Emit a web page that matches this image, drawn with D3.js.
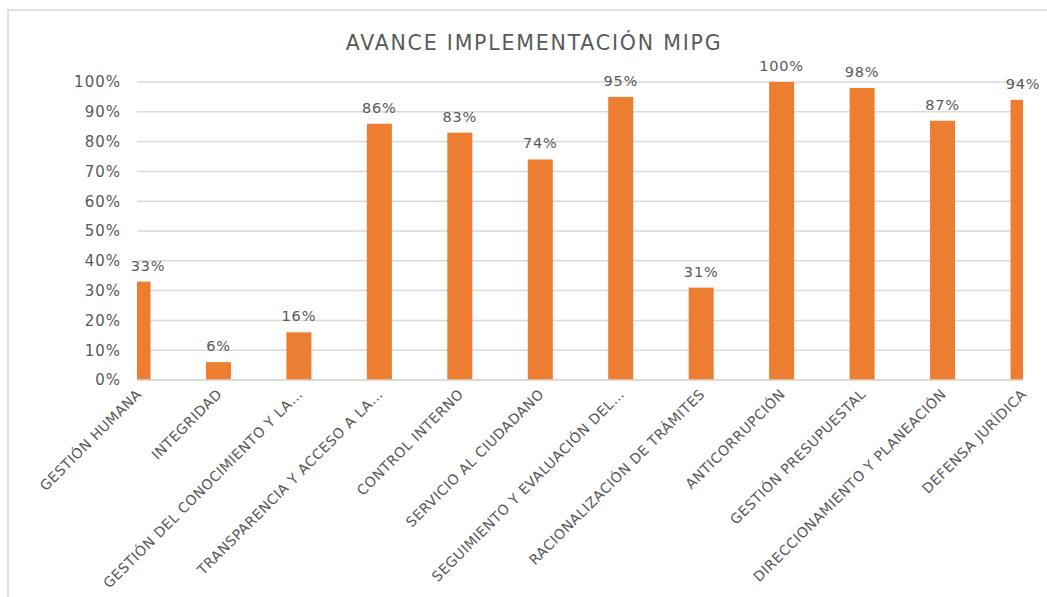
<!DOCTYPE html>
<html>
<head>
<meta charset="utf-8">
<script src="https://cdn.jsdelivr.net/npm/d3@7"></script>
<style>
  html, body { margin: 0; padding: 0; background: #fff; }
  svg { display: block; }
  text { font-family: "DejaVu Sans", sans-serif; }
</style>
</head>
<body>
<svg id="chart" width="1047" height="597"></svg>
<script>
const title = "AVANCE IMPLEMENTACIÓN MIPG";
const categories = [
  "GESTIÓN HUMANA",
  "INTEGRIDAD",
  "GESTIÓN DEL CONOCIMIENTO Y LA…",
  "TRANSPARENCIA Y ACCESO A LA…",
  "CONTROL INTERNO",
  "SERVICIO AL CIUDADANO",
  "SEGUIMIENTO Y EVALUACIÓN DEL…",
  "RACIONALIZACIÓN DE TRÁMITES",
  "ANTICORRUPCIÓN",
  "GESTIÓN PRESUPUESTAL",
  "DIRECCIONAMIENTO Y PLANEACIÓN",
  "DEFENSA JURÍDICA"
];
const values = [0.33, 0.06, 0.16, 0.86, 0.83, 0.74, 0.95, 0.31, 1.00, 0.98, 0.87, 0.94];
const yTicks = [0, 0.1, 0.2, 0.3, 0.4, 0.5, 0.6, 0.7, 0.8, 0.9, 1.0];

const svg = d3.select("#chart");
const W = 1047, H = 597;
const pLeft = 138, pRight = 1023, pTop = 82, pBottom = 380;
const textColor = "#595959";
const gridColor = "#d9d9d9";
const barColor = "#ED7D31";

// frame
svg.append("rect")
  .attr("x", 8).attr("y", 10)
  .attr("width", W + 20).attr("height", H + 20)
  .attr("fill", "#fff")
  .attr("stroke", gridColor).attr("stroke-width", 1.5);

// title
svg.append("text")
  .attr("x", 534).attr("y", 50)
  .attr("text-anchor", "middle")
  .attr("font-size", 20.5)
  .attr("letter-spacing", 1.8)
  .attr("fill", textColor)
  .text(title);

const x = d3.scalePoint().domain(categories).range([pLeft, pRight]);
const y = d3.scaleLinear().domain([0, 1]).range([pBottom, pTop]);

// grid
svg.append("g")
  .selectAll("line")
  .data(yTicks)
  .join("line")
  .attr("x1", pLeft - 1).attr("x2", pRight)
  .attr("y1", d => y(d)).attr("y2", d => y(d))
  .attr("stroke", gridColor).attr("stroke-width", 1.5);

// y axis labels
const yAxis = d3.axisLeft(y).tickValues(yTicks).tickFormat(d3.format(".0%")).tickSize(0).tickPadding(0);
const yg = svg.append("g").attr("transform", `translate(121,0)`).call(yAxis);
yg.select(".domain").remove();
yg.selectAll("text")
  .attr("font-size", 15)
  .attr("letter-spacing", 1)
  .attr("fill", textColor)
  .style("font-family", '"DejaVu Sans", sans-serif');

// clip for bars
svg.append("clipPath").attr("id", "plotclip")
  .append("rect").attr("x", pLeft - 1).attr("y", 0)
  .attr("width", pRight - pLeft + 1).attr("height", pBottom + 1);

const bw = 25;
svg.append("g").attr("clip-path", "url(#plotclip)")
  .selectAll("rect")
  .data(values)
  .join("rect")
  .attr("x", (d, i) => x(categories[i]) - bw / 2)
  .attr("width", bw)
  .attr("y", d => y(d))
  .attr("height", d => y(0) - y(d))
  .attr("fill", barColor);

// data labels
svg.append("g")
  .selectAll("text")
  .data(values)
  .join("text")
  .attr("x", (d, i) => Math.max(x(categories[i]), pLeft + 10))
  .attr("y", d => y(d) - 11)
  .attr("text-anchor", "middle")
  .attr("font-size", 14.5)
  .attr("letter-spacing", 0.8)
  .attr("fill", textColor)
  .text(d => d3.format(".0%")(d));

// x axis
const xAxis = d3.axisBottom(x).tickSize(0).tickPadding(0);
const xg = svg.append("g").attr("transform", `translate(0,${pBottom})`).call(xAxis);
xg.select(".domain").attr("stroke", gridColor).attr("stroke-width", 1.5)
  .attr("d", `M${pLeft - 1},0H${pRight}`);
xg.selectAll("text")
  .attr("font-size", 14)
  .attr("letter-spacing", 0.5)
  .attr("fill", textColor)
  .style("font-family", '"DejaVu Sans", sans-serif')
  .attr("text-anchor", "end")
  .attr("dy", null)
  .attr("transform", "translate(4,15) rotate(-45)")
  .attr("y", 0).attr("x", 0);
</script>
</body>
</html>
